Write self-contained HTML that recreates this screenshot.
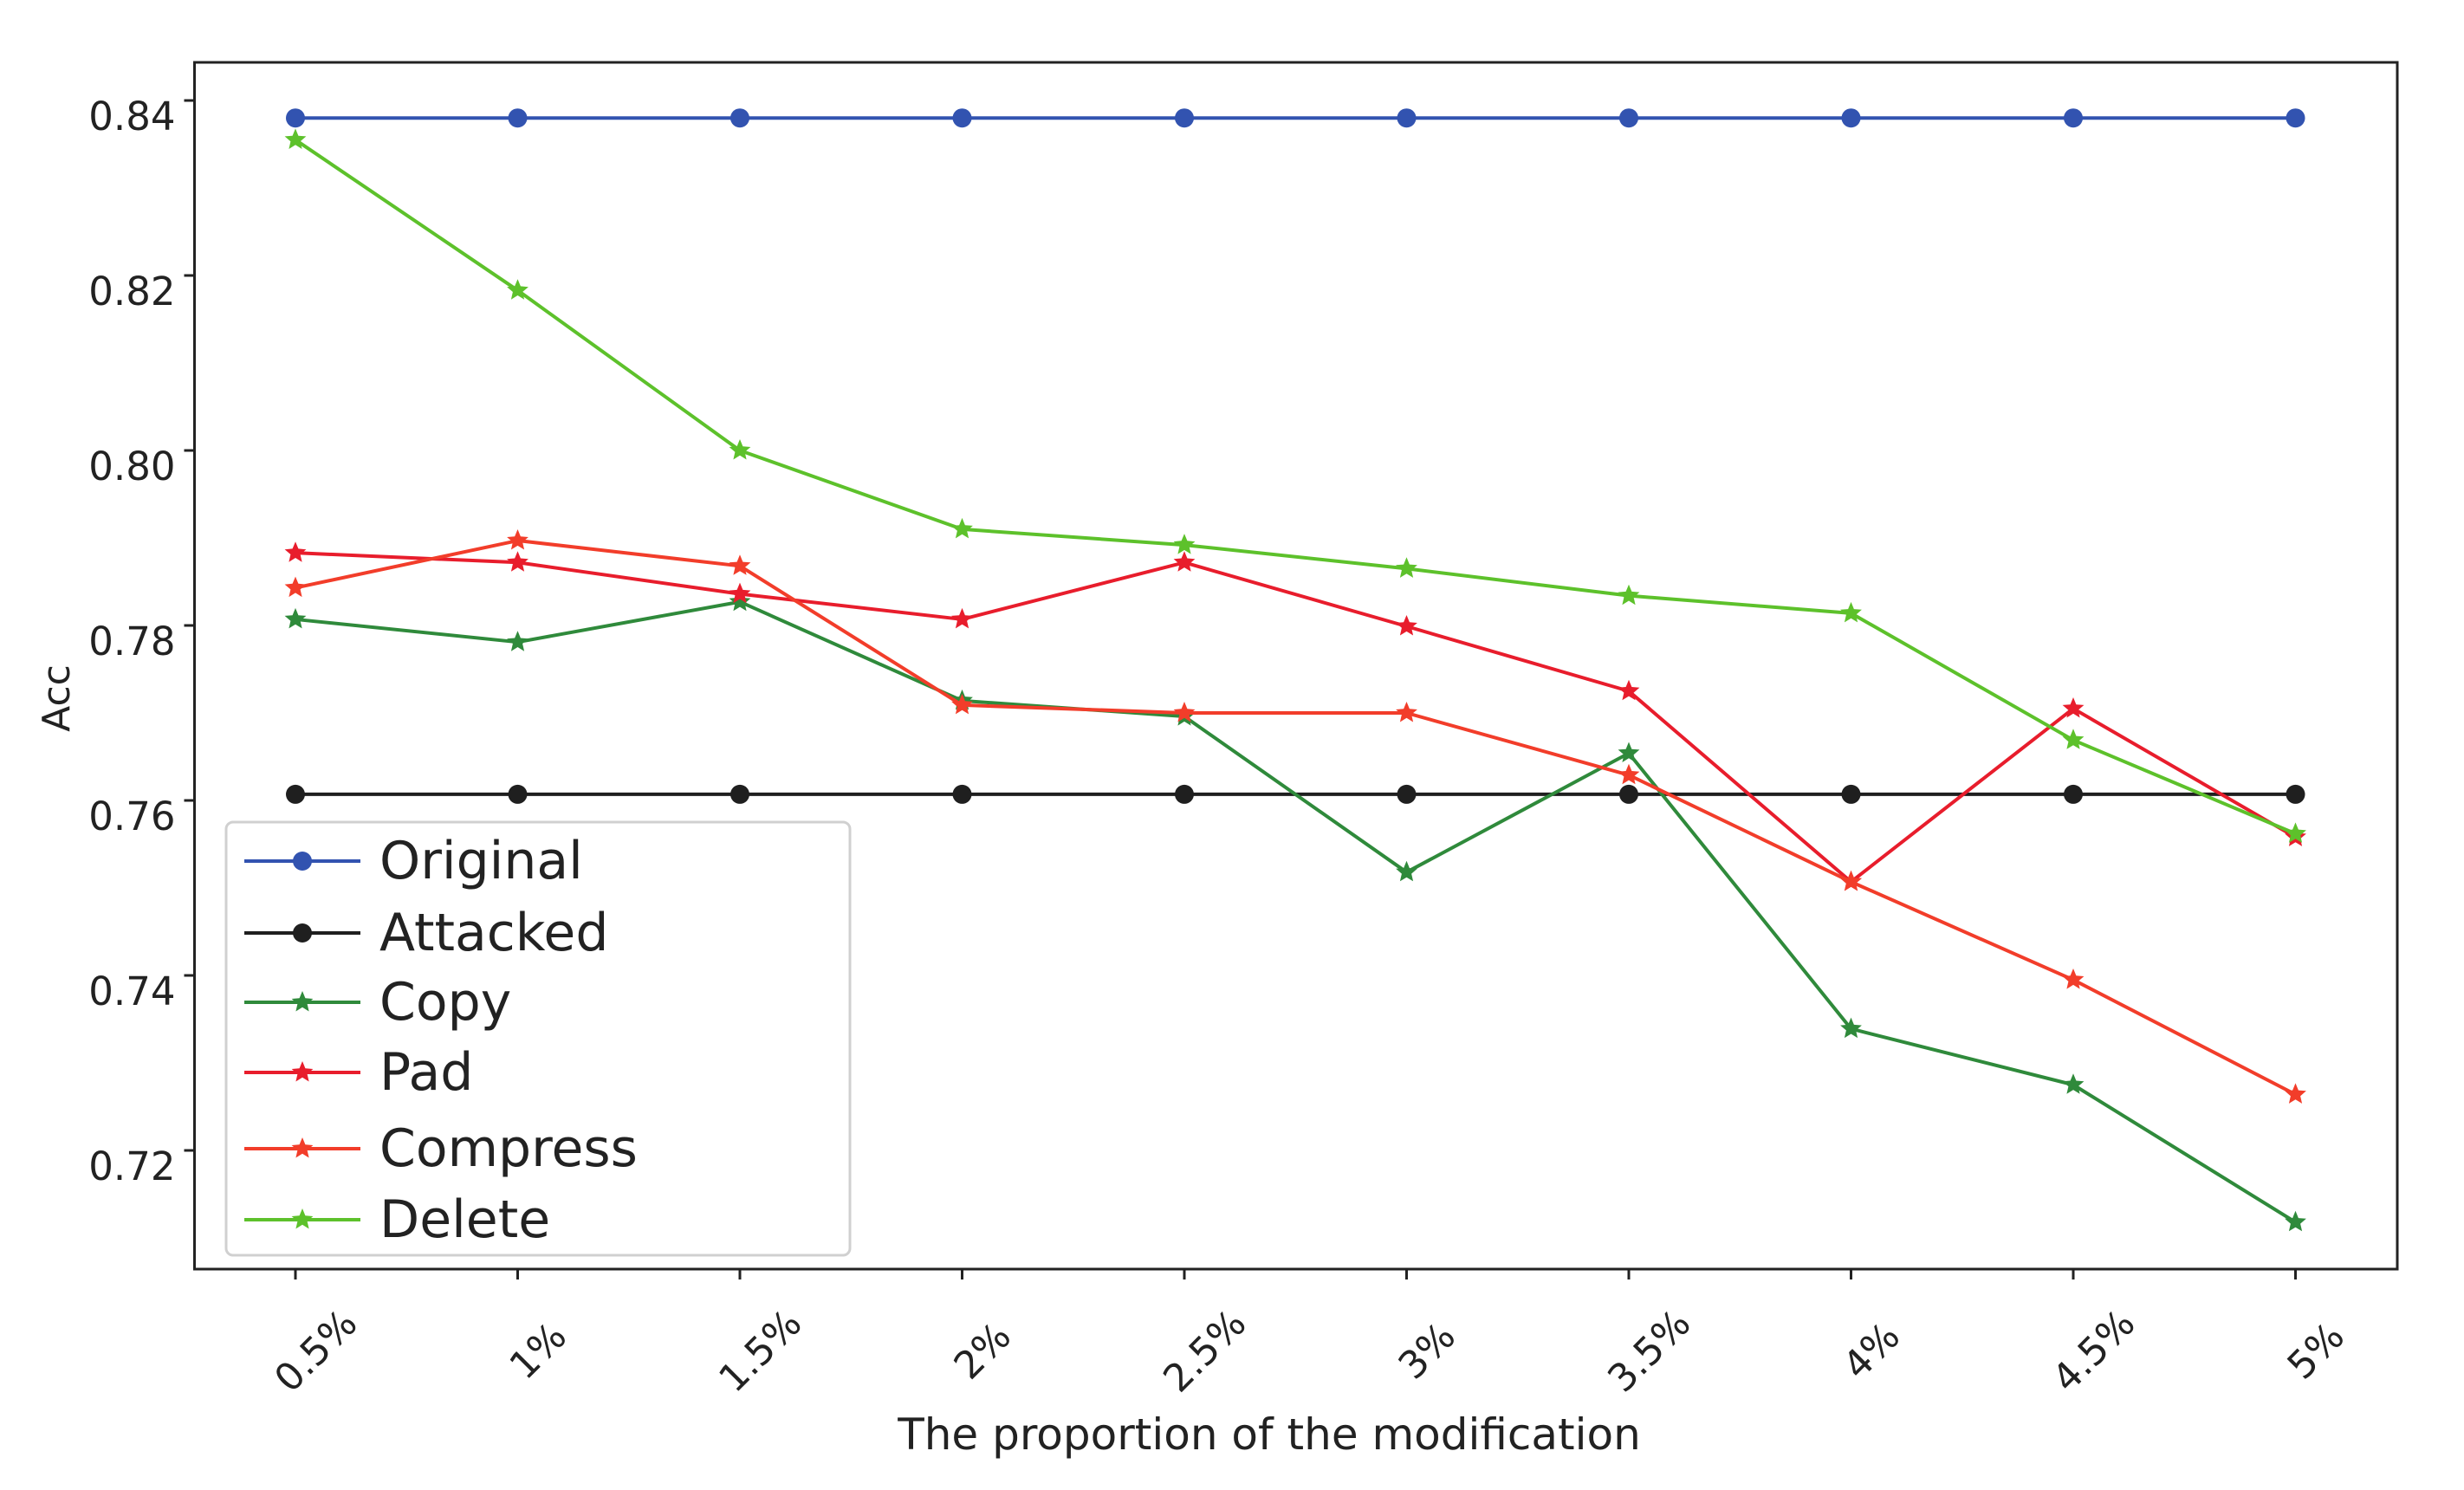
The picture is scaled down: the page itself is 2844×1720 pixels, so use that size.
<!DOCTYPE html>
<html><head><meta charset="utf-8"><style>
html,body{margin:0;padding:0;background:#fff;}
svg{display:block;font-family:"DejaVu Sans","Liberation Sans",sans-serif;}
</style></head><body>
<svg id="chart" width="2844" height="1720" viewBox="0 0 2844 1720" xmlns="http://www.w3.org/2000/svg">
<rect x="0" y="0" width="2844" height="1720" fill="#fff"/>
<g id="plot"></g>
<g id="axes"></g>
<g id="legend"></g>
</svg>
<script>
const categories = ["0.5%","1%","1.5%","2%","2.5%","3%","3.5%","4%","4.5%","5%"];
const yTicks = [0.72,0.74,0.76,0.78,0.80,0.82,0.84];
const yTickLabels = ["0.72","0.74","0.76","0.78","0.80","0.82","0.84"];
const originalValues = [0.838,0.838,0.838,0.838,0.838,0.838,0.838,0.838,0.838,0.838];
const attackedValues = [0.7607,0.7607,0.7607,0.7607,0.7607,0.7607,0.7607,0.7607,0.7607,0.7607];
const copyValues = [0.7807,0.7781,0.7827,0.7714,0.7696,0.7518,0.7654,0.7339,0.7275,0.7118];
const padValues = [0.7883,0.7872,0.7836,0.7807,0.7872,0.7799,0.7725,0.7507,0.7705,0.7558];
const compressValues = [0.7843,0.7897,0.7868,0.7709,0.77,0.77,0.7629,0.7507,0.7395,0.7264];
const deleteValues = [0.8355,0.8183,0.8,0.791,0.7892,0.7865,0.7834,0.7814,0.7669,0.7562];

const NS="http://www.w3.org/2000/svg";
const L=224.5,R=2767,T=72,B=1465;
function xPos(i){return 341+i*256.5;}
function yPos(v){return 116+(0.84-v)/0.02*202;}
function mk(tag,attrs,parent){const e=document.createElementNS(NS,tag);for(const k in attrs)e.setAttribute(k,attrs[k]);parent.appendChild(e);return e;}
function starPts(cx,cy,r){let p=[];for(let k=0;k<10;k++){const a=-Math.PI/2+k*Math.PI/5;const rr=k%2?r*0.45:r;p.push((cx+rr*Math.cos(a)).toFixed(1)+","+(cy+rr*Math.sin(a)).toFixed(1));}return p.join(" ");}

const series=[
 {name:"Original",vals:originalValues,color:"#3253b0",m:"circle"},
 {name:"Attacked",vals:attackedValues,color:"#1f1f1f",m:"circle"},
 {name:"Copy",vals:copyValues,color:"#2f8a3b",m:"star"},
 {name:"Pad",vals:padValues,color:"#e81d2c",m:"star"},
 {name:"Compress",vals:compressValues,color:"#f23d2a",m:"star"},
 {name:"Delete",vals:deleteValues,color:"#5dc12b",m:"star"}
];
const plot=document.getElementById('plot');
series.forEach(s=>{
 const g=mk('g',{},plot);
 
 
 const pts=s.vals.map((v,i)=>xPos(i)+","+yPos(v)).join(" ");
 const pl=mk('polyline',{points:pts,fill:"none",stroke:s.color,"stroke-width":4,"stroke-linejoin":"round"},g);
 
 
 s.vals.forEach((v,i)=>{
  let e;
  if(s.m==="circle") e=mk('circle',{cx:xPos(i),cy:yPos(v),r:11,fill:s.color},g);
  else e=mk('polygon',{points:starPts(xPos(i),yPos(v),13),fill:s.color},g);
  
  
 });
});
const ax=document.getElementById('axes');
const fr=mk('rect',{x:L,y:T,width:R-L,height:B-T,fill:"none",stroke:"#222","stroke-width":3},ax);


yTicks.forEach((v,i)=>{
 const y=yPos(v);
 mk('line',{x1:L-12,x2:L,y1:y,y2:y,stroke:"#222","stroke-width":3},ax);
 const t=mk('text',{x:L-22,y:y+34,"text-anchor":"end","font-size":45,fill:"#222"},ax);
 t.textContent=yTickLabels[i];
 
 
});
categories.forEach((c,i)=>{
 const x=xPos(i);
 mk('line',{x1:x,x2:x,y1:B,y2:B+12,stroke:"#222","stroke-width":3},ax);
 const t=mk('text',{x:0,y:0,"text-anchor":"middle","font-size":44,fill:"#222",transform:`translate(${x+34},${1570}) rotate(-45)`},ax);
 t.textContent=c;
 
 
});
const xt=mk('text',{x:1465,y:1673,"text-anchor":"middle","font-size":50,fill:"#222"},ax);
xt.textContent="The proportion of the modification";


const yt=mk('text',{x:0,y:0,"text-anchor":"middle","font-size":44,fill:"#222",transform:"translate(80,806) rotate(-90)"},ax);
yt.textContent="Acc";



const lg=document.getElementById('legend');
const box=mk('rect',{x:261,y:949,width:720,height:500,rx:8,fill:"#fff","fill-opacity":0.85,stroke:"#d0d0d0","stroke-width":3},lg);


const ly=[994,1077,1157,1238,1326,1408];
series.forEach((s,i)=>{
 const g=mk('g',{},lg);
 
 
 const y=ly[i];
 mk('line',{x1:282,x2:416,y1:y,y2:y,stroke:s.color,"stroke-width":4},g);
 if(s.m==="circle") mk('circle',{cx:349,cy:y,r:11,fill:s.color},g);
 else mk('polygon',{points:starPts(349,y,13),fill:s.color},g);
 const t=mk('text',{x:438,y:y+20,"font-size":60,fill:"#222"},g);
 t.textContent=s.name;
});
</script>
</body></html>
